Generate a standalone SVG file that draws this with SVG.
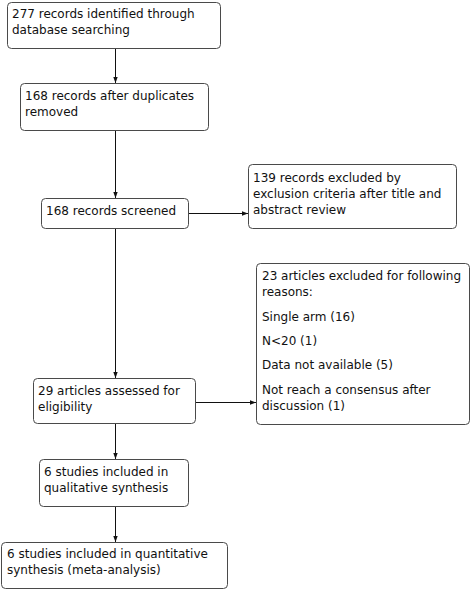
<svg xmlns="http://www.w3.org/2000/svg" width="472" height="591" viewBox="0 0 472 591">
<style>
.box{fill:#fff;stroke:#4a4a4a;stroke-width:1}
text{font-family:"DejaVu Sans",Verdana,sans-serif;font-size:12px;fill:#111}
.c{stroke:#111;stroke-width:1;fill:none;marker-end:url(#ah)}
</style>
<defs>
<marker id="ah" viewBox="0 0 6 6" refX="6" refY="3" markerWidth="6" markerHeight="6" markerUnits="userSpaceOnUse" orient="auto">
<path d="M0,0.8 L6,3 L0,5.2 Z" fill="#111"/>
</marker>
</defs>
<rect width="472" height="591" fill="#fff"/>
<g id="connectors">
<path class="c" d="M115.5,49 V83"/>
<path class="c" d="M115.5,131 V198"/>
<path class="c" d="M189,213.5 H248"/>
<path class="c" d="M115.5,229 V378"/>
<path class="c" d="M196,402.5 H256"/>
<path class="c" d="M115.5,424 V459"/>
<path class="c" d="M115.5,507 V542"/>
</g>
<g id="n1">
<rect class="box" x="7.5" y="2.5" width="213" height="46" rx="4"/>
<text x="12" y="18">277 records identified through</text>
<text x="12" y="34">database searching</text>
</g>
<g id="n2">
<rect class="box" x="20.5" y="83.5" width="188" height="47" rx="4"/>
<text x="25" y="100">168 records after duplicates</text>
<text x="25" y="116">removed</text>
</g>
<g id="n3">
<rect class="box" x="41.5" y="198.5" width="147" height="30" rx="4"/>
<text x="46" y="215">168 records screened</text>
</g>
<g id="n4">
<rect class="box" x="248.5" y="164.5" width="208" height="64" rx="4"/>
<text x="253" y="182">139 records excluded by</text>
<text x="253" y="198">exclusion criteria after title and</text>
<text x="253" y="214">abstract review</text>
</g>
<g id="n5">
<rect class="box" x="256.5" y="263.5" width="213" height="161" rx="4"/>
<text x="262" y="280">23 articles excluded for following</text>
<text x="262" y="296">reasons:</text>
<text x="262" y="321">Single arm (16)</text>
<text x="262" y="345">N&lt;20 (1)</text>
<text x="262" y="369">Data not available (5)</text>
<text x="262" y="394">Not reach a consensus after</text>
<text x="262" y="410">discussion (1)</text>
</g>
<g id="n6">
<rect class="box" x="33.5" y="378.5" width="162" height="45" rx="4"/>
<text x="38" y="395">29 articles assessed for</text>
<text x="38" y="411">eligibility</text>
</g>
<g id="n7">
<rect class="box" x="39.5" y="459.5" width="149" height="47" rx="4"/>
<text x="44" y="476">6 studies included in</text>
<text x="44" y="492">qualitative synthesis</text>
</g>
<g id="n8">
<rect class="box" x="1.5" y="542.5" width="226" height="46" rx="4"/>
<text x="7" y="558">6 studies included in quantitative</text>
<text x="7" y="574">synthesis (meta-analysis)</text>
</g>
</svg>
